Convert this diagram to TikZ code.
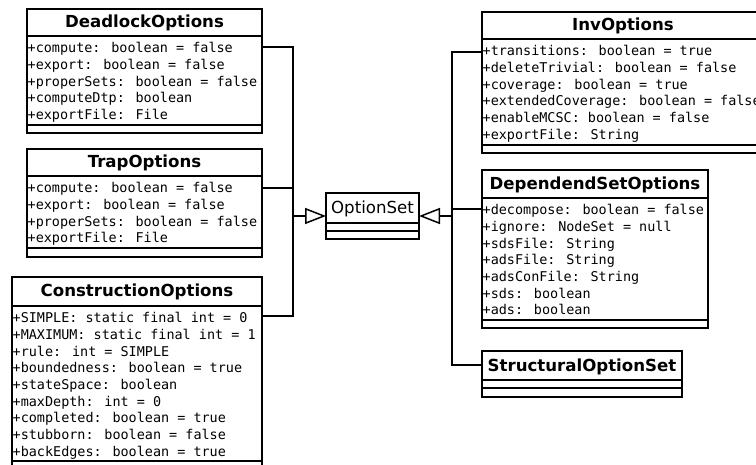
\documentclass[tikz,border=0pt]{standalone}
\usepackage{fontspec}
\newfontfamily\umlsans{DejaVu Sans}
\newfontfamily\umlmono{DejaVu Sans Mono}
\usetikzlibrary{arrows.meta}

% attribute lines of a class: name prefix, x, y of the separator above, lines
\newcommand\attrlist[4]{%
  \foreach \t [count=\i] in {#4} \node[attr] (#1-\i) at (#2,{#3+16.7*\i}) {\t};}
% the two compartment separators of a class box
\newcommand\classparts[3]{%
  \draw[sepline] ([yshift=-#2pt]#1.north west) -- ([yshift=-#2pt]#1.north east);
  \draw[sepline] ([yshift=-#3pt]#1.north west) -- ([yshift=-#3pt]#1.north east);}

\begin{document}
\begin{tikzpicture}[x=1pt,y=-1pt,
  classbox/.style={draw, fill=white, rectangle, inner sep=0pt, outer sep=0pt,
    anchor=north west, line width=1.5pt},
  sepline/.style={line width=1.5pt},
  classtitle/.style={font=\umlsans\bfseries\fontsize{16.6}{20}\selectfont,
    anchor=base, inner sep=0pt},
  plaintitle/.style={font=\umlsans\fontsize{16.6}{20}\selectfont,
    anchor=base, inner sep=0pt},
  attr/.style={font=\umlmono\fontsize{13.45}{16.7}\selectfont,
    anchor=base west, inner sep=0pt},
  conn/.style={line width=1.5pt},
  gen/.style={line width=1.5pt, -{Triangle[open, length=21pt, width=16pt]}}]

\useasboundingbox (0,0) rectangle (756,465);
\clip (0,0) rectangle (756,465);
\fill[white] (0,0) rectangle (756,465);

% hierarchy buses
\coordinate (busL) at (293,216);
\coordinate (busR) at (452,216);

% ---------- left column ----------
\node[classbox, minimum width=235pt, minimum height=124pt] (dead) at (27,9) {};
\classparts{dead}{27}{116}
\node[classtitle] (dead-t) at ([yshift=-18.3pt]dead.north) {DeadlockOptions};
\attrlist{dead}{27.5}{36}{{+compute: boolean = false},{+export: boolean = false},
  {+properSets: boolean = false},{+computeDtp: boolean},{+exportFile: File}}

\node[classbox, minimum width=235pt, minimum height=108pt] (trap) at (27,149) {};
\classparts{trap}{27}{99}
\node[classtitle] (trap-t) at ([yshift=-18.5pt]trap.north) {TrapOptions};
\attrlist{trap}{27.5}{176}{{+compute: boolean = false},{+export: boolean = false},
  {+properSets: boolean = false},{+exportFile: File}}

\node[classbox, minimum width=250pt, minimum height=205pt] (cons) at (12,277) {};
\classparts{cons}{29}{184}
\node[classtitle] (cons-t) at ([yshift=-20pt]cons.north) {ConstructionOptions};
\attrlist{cons}{12.5}{306}{{+SIMPLE: static final int = 0},{+MAXIMUM: static final int = 1},
  {+rule: int = SIMPLE},{+boundedness: boolean = true},{+stateSpace: boolean},
  {+maxDepth: int = 0},{+completed: boolean = true},{+stubborn: boolean = false},
  {+backEdges: boolean = true}}

% ---------- base class ----------
\node[classbox, minimum width=93pt, minimum height=46pt] (optset) at (326,193) {};
\classparts{optset}{30}{38}
\node[plaintitle] (optset-t) at ([yshift=-20.5pt]optset.north) {OptionSet};

% ---------- right column ----------
\node[classbox, minimum width=282pt, minimum height=141pt] (inv) at (482,12) {};
\classparts{inv}{27}{133}
\node[classtitle] (inv-t) at ([yshift=-19pt]inv.north) {InvOptions};
\attrlist{inv}{482.5}{39}{{+transitions: boolean = true},{+deleteTrivial: boolean = false},
  {+coverage: boolean = true},{+extendedCoverage: boolean = false},
  {+enableMCSC: boolean = false},{+exportFile: String}}

\node[classbox, minimum width=226pt, minimum height=158pt] (dep) at (482,170) {};
\classparts{dep}{28}{150}
\node[classtitle] (dep-t) at ([yshift=-20pt]dep.north) {DependendSetOptions};
\attrlist{dep}{482.5}{198}{{+decompose: boolean = false},{+ignore: NodeSet = null},
  {+sdsFile: String},{+adsFile: String},{+adsConFile: String},
  {+sds: boolean},{+ads: boolean}}

\node[classbox, minimum width=200pt, minimum height=46pt] (struct) at (482,351) {};
\classparts{struct}{29}{37}
\node[classtitle] (struct-t) at ([yshift=-20.7pt]struct.north) {StructuralOptionSet};

% ---------- generalisation connectors ----------
\draw[conn] ([yshift=-38pt]dead.north east) -| (busL);
\draw[conn] ([yshift=-39pt]trap.north east) -| (busL);
\draw[conn] ([yshift=-39pt]cons.north east) -| (busL);
\draw[gen] (busL) -- (optset.west);

\draw[conn] ([yshift=-40pt]inv.north west) -| (busR);
\draw[conn] ([yshift=-39pt]dep.north west) -| (busR);
\draw[conn] ([yshift=-14pt]struct.north west) -| (busR);
\draw[gen] (busR) -- (optset.east);
\end{tikzpicture}
\end{document}
